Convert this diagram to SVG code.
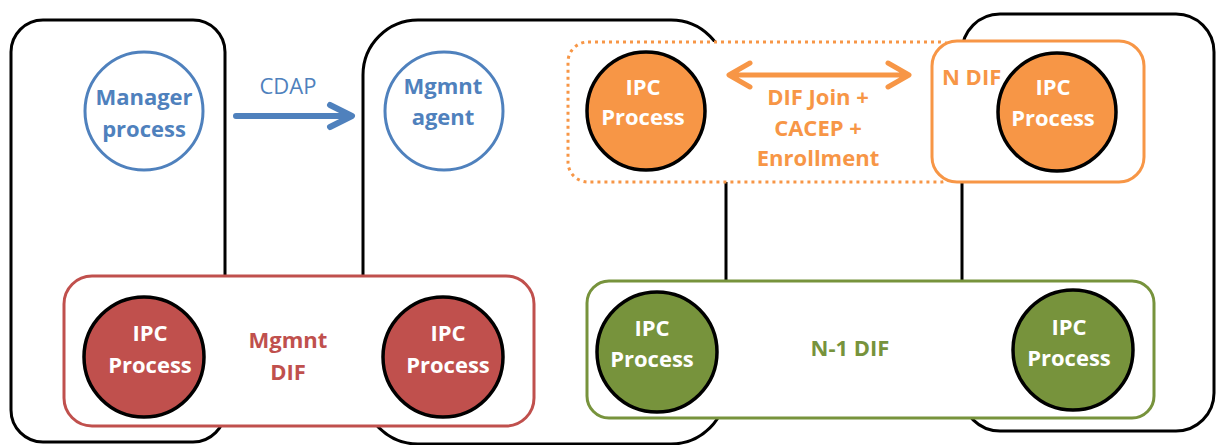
<svg xmlns="http://www.w3.org/2000/svg" width="1216" height="445" viewBox="0 0 1216 445">
  <style>
    .sys { fill: #ffffff; stroke: #000000; stroke-width: 3; }
    .proc { stroke: #000000; stroke-width: 3.5; }
    .lbl { font-family: "Open Sans", "Liberation Sans", sans-serif; font-size: 22px; font-weight: bold; text-anchor: middle; }
    .w { fill: #ffffff; }
    .blue { fill: #4f81bd; }
    .red { fill: #c0504d; }
    .green { fill: #77933c; }
    .orange { fill: #f79646; }
  </style>

  <!-- systems -->
  <g id="system-manager">
    <rect class="sys" x="11" y="20" width="214" height="422" rx="32" ry="32"/>
  </g>
  <g id="system-managed">
    <rect class="sys" x="363" y="20" width="363" height="424" rx="55" ry="55"/>
  </g>
  <g id="system-peer">
    <rect class="sys" x="962" y="14" width="252" height="417" rx="38" ry="38"/>
  </g>

  <!-- enrollment scope (dotted) -->
  <g id="enrollment-scope">
    <rect x="568" y="42" width="392" height="140" rx="20" ry="20" fill="#ffffff" stroke="#f79646" stroke-width="3" stroke-dasharray="3 4"/>
  </g>

  <!-- N DIF -->
  <g id="n-dif">
    <rect x="932" y="41" width="212" height="141" rx="25" ry="25" fill="#ffffff" stroke="#f79646" stroke-width="3"/>
    <text class="lbl orange" x="942" y="85" style="text-anchor:start">N DIF</text>
  </g>

  <!-- Mgmnt DIF -->
  <g id="mgmnt-dif">
    <rect x="64" y="276" width="470" height="150" rx="28" ry="28" fill="#ffffff" stroke="#c0504d" stroke-width="3"/>
    <text class="lbl red" x="288" y="348">Mgmnt</text>
    <text class="lbl red" x="288" y="380">DIF</text>
  </g>

  <!-- N-1 DIF -->
  <g id="n1-dif">
    <rect x="587" y="281" width="567" height="137" rx="22" ry="22" fill="#ffffff" stroke="#77933c" stroke-width="3"/>
    <text class="lbl green" x="850" y="356">N-1 DIF</text>
  </g>

  <!-- management processes -->
  <g id="manager-process">
    <circle cx="144" cy="111" r="59" fill="#ffffff" stroke="#4f81bd" stroke-width="3"/>
    <text class="lbl blue" x="144" y="105">Manager</text>
    <text class="lbl blue" x="144" y="137">process</text>
  </g>
  <g id="mgmnt-agent">
    <circle cx="444" cy="111" r="59" fill="#ffffff" stroke="#4f81bd" stroke-width="3"/>
    <text class="lbl blue" x="443" y="94">Mgmnt</text>
    <text class="lbl blue" x="443" y="125">agent</text>
  </g>

  <!-- IPC processes -->
  <g id="ipcp-n-left">
    <circle class="proc" cx="646" cy="111" r="59" fill="#f79646"/>
    <text class="lbl w" x="643" y="95">IPC</text>
    <text class="lbl w" x="643" y="125">Process</text>
  </g>
  <g id="ipcp-n-right">
    <circle class="proc" cx="1057" cy="112" r="59" fill="#f79646"/>
    <text class="lbl w" x="1053" y="95">IPC</text>
    <text class="lbl w" x="1053" y="126">Process</text>
  </g>
  <g id="ipcp-mgmnt-left">
    <circle class="proc" cx="144" cy="357" r="60" fill="#c0504d"/>
    <text class="lbl w" x="150" y="341">IPC</text>
    <text class="lbl w" x="150" y="373">Process</text>
  </g>
  <g id="ipcp-mgmnt-right">
    <circle class="proc" cx="443" cy="357" r="60" fill="#c0504d"/>
    <text class="lbl w" x="448" y="341">IPC</text>
    <text class="lbl w" x="448" y="373">Process</text>
  </g>
  <g id="ipcp-n1-left">
    <circle class="proc" cx="657" cy="352" r="60" fill="#77933c"/>
    <text class="lbl w" x="652" y="336">IPC</text>
    <text class="lbl w" x="652" y="367">Process</text>
  </g>
  <g id="ipcp-n1-right">
    <circle class="proc" cx="1073" cy="350" r="60" fill="#77933c"/>
    <text class="lbl w" x="1069" y="335">IPC</text>
    <text class="lbl w" x="1069" y="366">Process</text>
  </g>

  <!-- connectors -->
  <g id="connectors" fill="none" stroke-linecap="round" stroke-linejoin="round">
    <g id="cdap">
      <path d="M236 116 H349 M330 105 L352 116 L330 127" stroke="#4f81bd" stroke-width="6"/>
      <text x="288" y="94" fill="#4f81bd" stroke="none" style="font-family:'Open Sans','Liberation Sans',sans-serif;font-size:22px;text-anchor:middle">CDAP</text>
    </g>
    <g id="enrollment">
      <path d="M731 75 H907 M750 63 L729 75 L750 87 M888 63 L909 75 L888 87" stroke="#f79646" stroke-width="5"/>
      <text class="lbl orange" x="818" y="105" stroke="none">DIF Join +</text>
      <text class="lbl orange" x="818" y="136" stroke="none">CACEP +</text>
      <text class="lbl orange" x="818" y="166" stroke="none">Enrollment</text>
    </g>
  </g>
</svg>
